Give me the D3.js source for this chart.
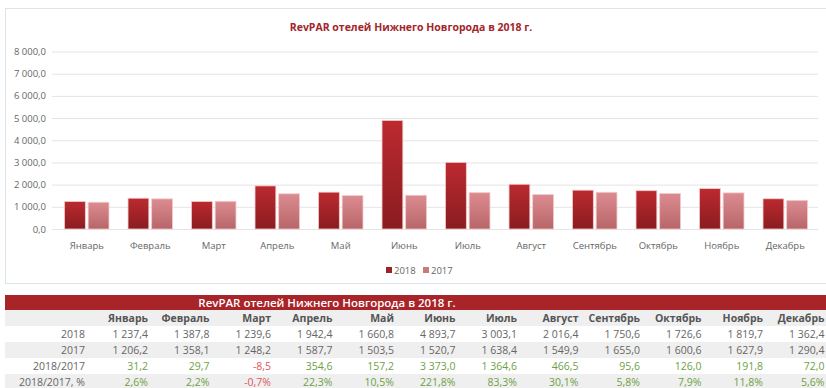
<!DOCTYPE html>
<html>
<head>
<meta charset="utf-8">
<script src="https://cdn.jsdelivr.net/npm/d3@7/dist/d3.min.js"></script>
<style>
  html, body { margin: 0; padding: 0; background: #fff; }
  svg { display: block; font-family: "Open Sans", "Noto Sans", sans-serif; }
</style>
</head>
<body>
<svg id="chart" width="826" height="388"></svg>
<script>
// RevPAR of Nizhny Novgorod hotels by month, 2018 vs 2017
const title = "RevPAR отелей Нижнего Новгорода в 2018 г.";
const months = ["Январь", "Февраль", "Март", "Апрель", "Май", "Июнь",
                "Июль", "Август", "Сентябрь", "Октябрь", "Ноябрь", "Декабрь"];
const series = ["2018", "2017"];
const values2018 = [1237.4, 1387.8, 1239.6, 1942.4, 1660.8, 4893.7,
                    3003.1, 2016.4, 1750.6, 1726.6, 1819.7, 1362.4];
const values2017 = [1206.2, 1358.1, 1248.2, 1587.7, 1503.5, 1520.7,
                    1638.4, 1549.9, 1655.0, 1600.6, 1627.9, 1290.4];
const diffAbs = [31.2, 29.7, -8.5, 354.6, 157.2, 3373.0,
                 1364.6, 466.5, 95.6, 126.0, 191.8, 72.0];
const diffPct = [2.6, 2.2, -0.7, 22.3, 10.5, 221.8,
                 83.3, 30.1, 5.8, 7.9, 11.8, 5.6];
const yTicks = [0, 1000, 2000, 3000, 4000, 5000, 6000, 7000, 8000];
const rowLabels = ["2018", "2017", "2018/2017", "2018/2017, %"];

const ru = d3.formatLocale({ decimal: ",", thousands: " ", grouping: [3], currency: ["", ""], minus: "-" });
const fmt = ru.format(",.1f");
const fmtPct = v => ru.format(".1f")(v) + "%";

const svg = d3.select("#chart");
const defs = svg.append("defs");

function grad(id, top, bottom) {
  const g = defs.append("linearGradient").attr("id", id)
    .attr("x1", 0).attr("y1", 0).attr("x2", 0).attr("y2", 1);
  g.append("stop").attr("offset", "0%").attr("stop-color", top);
  g.append("stop").attr("offset", "100%").attr("stop-color", bottom);
}
grad("g2018", "#bb2a2f", "#8a1c20");
grad("g2017", "#dc8c90", "#b76569");
const fills = { "2018": "url(#g2018)", "2017": "url(#g2017)" };
const swatch = { "2018": "#9e2328", "2017": "#c97a7e" };

// chart frame
svg.append("rect")
  .attr("x", 5.5).attr("y", 8.5).attr("width", 840).attr("height", 275)
  .attr("fill", "#fff").attr("stroke", "#dbe6ec");

svg.append("text")
  .attr("x", 411).attr("y", 31)
  .attr("text-anchor", "middle")
  .attr("font-size", 10.5).attr("font-weight", 700)
  .attr("fill", "#a3262b")
  .text(title);

// scales
const x = d3.scaleBand().domain(months).range([55, 817]).paddingInner(0.3).paddingOuter(0.15);
const xs = d3.scaleBand().domain(series).range([0, x.bandwidth()]).paddingInner(0.12);
const y = d3.scaleLinear().domain([0, 8000]).range([229, 51.5]);

// y axis with gridlines
const yAxis = svg.append("g")
  .attr("transform", "translate(52,0)")
  .call(d3.axisLeft(y).tickValues(yTicks).tickSize(-766).tickFormat(fmt).tickPadding(6));
yAxis.select(".domain").remove();
yAxis.selectAll(".tick line").attr("stroke", "#e4e4e4");
yAxis.selectAll(".tick text").attr("fill", "#666").attr("font-size", 9.5)
  .attr("font-family", "'Open Sans', sans-serif");

// bars
const groups = svg.append("g").selectAll("g")
  .data(months.map((m, i) => ({ m, vals: [
    { s: "2018", v: values2018[i] }, { s: "2017", v: values2017[i] }] })))
  .join("g")
  .attr("transform", d => `translate(${x(d.m)},0)`);
groups.selectAll("rect")
  .data(d => d.vals)
  .join("rect")
  .attr("x", d => xs(d.s))
  .attr("width", xs.bandwidth())
  .attr("y", d => y(d.v))
  .attr("height", d => y(0) - y(d.v))
  .attr("fill", d => fills[d.s])
  .attr("stroke", "#f3c9cb").attr("stroke-width", 0.8);

// x axis labels
const xAxis = svg.append("g")
  .attr("transform", `translate(0,${y(0)})`)
  .call(d3.axisBottom(x).tickSize(0).tickPadding(13));
xAxis.select(".domain").remove();
xAxis.selectAll(".tick text").attr("fill", "#666").attr("font-size", 9.5)
  .attr("font-family", "'Open Sans', sans-serif");

// legend
const legend = svg.append("g").attr("transform", "translate(386,270)");
const legX = { "2018": 0, "2017": 37 };
series.forEach(s => {
  const g = legend.append("g").attr("transform", `translate(${legX[s]},0)`);
  g.append("rect").attr("x", 0).attr("y", -3).attr("width", 6).attr("height", 6).attr("fill", swatch[s]);
  g.append("text").attr("x", 8).attr("y", 3.5).attr("font-size", 9.5).attr("fill", "#666").text(s);
});

// table
const tTop = 295, hH = 15, rH = 16;
const col = d3.scaleBand().domain(months).range([86.5, 824.5]);
const colRight = m => col(m) + col.bandwidth();

svg.append("rect").attr("x", 5).attr("y", tTop).attr("width", 830).attr("height", hH).attr("fill", "#a82428");
svg.append("text").attr("x", 327).attr("y", tTop + 11.5)
  .attr("text-anchor", "middle").attr("font-size", 11.5).attr("font-weight", 600)
  .attr("fill", "#fff").text(title);

const rowsTop = tTop + hH;
[0, 1, 2, 3, 4].forEach(i => {
  svg.append("rect").attr("x", 5).attr("y", rowsTop + i * rH).attr("width", 830).attr("height", rH)
    .attr("fill", i % 2 === 0 ? "#efefef" : "#ffffff");
});

const table = svg.append("g").attr("font-size", 10.5);
// month header row
table.selectAll("text.mh").data(months).join("text")
  .attr("class", "mh")
  .attr("x", m => colRight(m)).attr("y", rowsTop + 11.5)
  .attr("text-anchor", "end").attr("font-weight", 700).attr("fill", "#555")
  .text(m => m);

const rows = [
  { label: rowLabels[0], vals: values2018, f: fmt, colored: false },
  { label: rowLabels[1], vals: values2017, f: fmt, colored: false },
  { label: rowLabels[2], vals: diffAbs, f: fmt, colored: true },
  { label: rowLabels[3], vals: diffPct, f: fmtPct, colored: true }
];
rows.forEach((r, ri) => {
  const yy = rowsTop + (ri + 1) * rH + 11.5;
  table.append("text").attr("x", 85).attr("y", yy).attr("text-anchor", "end")
    .attr("fill", "#666").text(r.label);
  table.selectAll(null).data(months).join("text")
    .attr("x", m => colRight(m)).attr("y", yy)
    .attr("text-anchor", "end")
    .attr("fill", (m, i) => !r.colored ? "#666" : (r.vals[i] < 0 ? "#e0575b" : "#6e9f45"))
    .text((m, i) => r.f(r.vals[i]));
});
</script>
</body>
</html>
